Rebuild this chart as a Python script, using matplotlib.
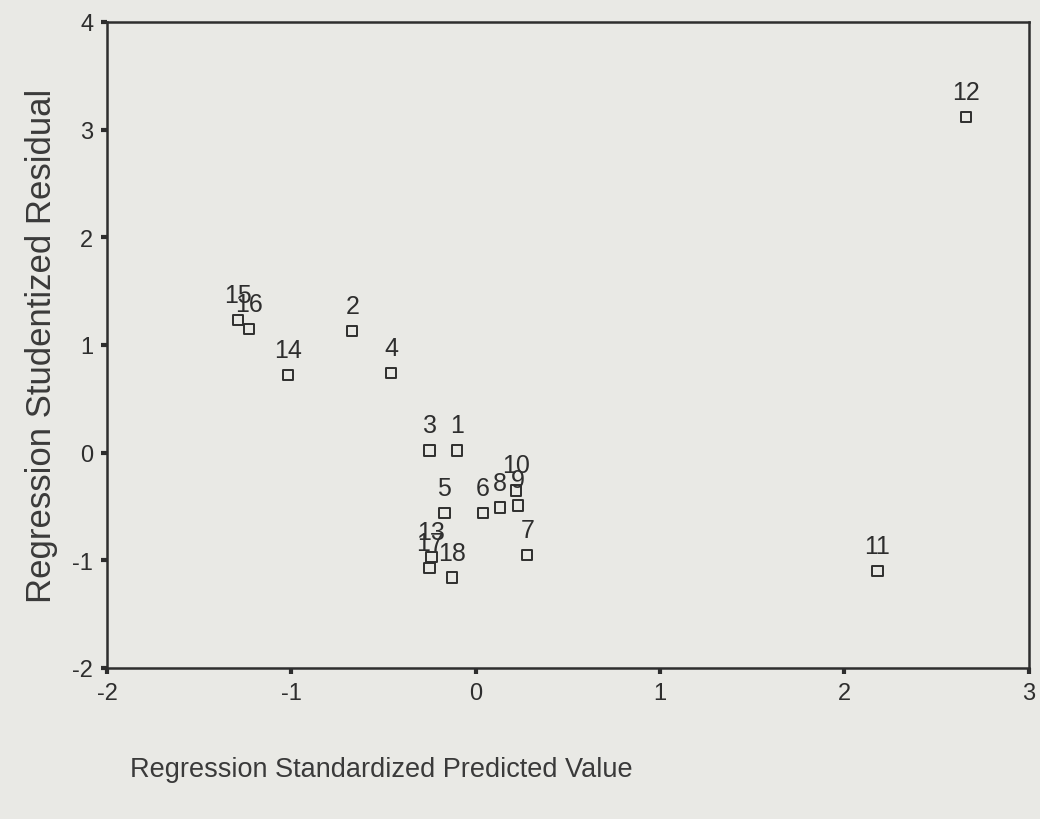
import matplotlib.pyplot as plt

plt.rcParams['font.family'] = ['Liberation Sans', 'DejaVu Sans']
plt.rcParams['axes.unicode_minus'] = False

# case numbers and their coordinates
case_ids = [1, 2, 3, 4, 5, 6, 7, 8, 9, 10, 11, 12, 13, 14, 15, 16, 17, 18]
pred_std = [-0.10, -0.67, -0.25, -0.46, -0.17, 0.04, 0.28, 0.13, 0.23, 0.22,
            2.18, 2.66, -0.24, -1.02, -1.29, -1.23, -0.25, -0.13]
resid_stud = [0.02, 1.13, 0.02, 0.74, -0.56, -0.56, -0.95, -0.51, -0.49, -0.35,
              -1.10, 3.12, -0.97, 0.72, 1.23, 1.15, -1.07, -1.16]

x_ticks = [-2, -1, 0, 1, 2, 3]
y_ticks = [-2, -1, 0, 1, 2, 3, 4]

bg = '#e9e9e5'
ink = '#2e2e2e'

fig = plt.figure(figsize=(10.4, 8.2), dpi=100, facecolor=bg)
ax = fig.add_axes([0.103, 1 - 669 / 820, 0.886, 646 / 820], facecolor=bg)

ax.scatter(pred_std, resid_stud, marker='s', s=55, facecolors='none',
           edgecolors=ink, linewidths=1.4, zorder=3)
for cid, xv, yv in zip(case_ids, pred_std, resid_stud):
    ax.annotate(str(cid), (xv, yv), xytext=(0, 13), textcoords='offset points',
                ha='center', va='baseline', fontsize=18, color=ink)

ax.set_xlim(-2, 3)
ax.set_ylim(-2, 4)
ax.set_xticks(x_ticks)
ax.set_yticks(y_ticks)
ax.tick_params(direction='out', length=4, width=3, colors=ink,
               labelsize=17, pad=6)
for sp in ax.spines.values():
    sp.set_color(ink)
    sp.set_linewidth(1.8)

ax.set_ylabel('Regression Studentized Residual', fontsize=25, color='#3a3a3a',
              labelpad=10)
fig.text(130 / 1040, 1 - 770 / 820, 'Regression Standardized Predicted Value',
         fontsize=19.5, color='#3a3a3a', ha='left', va='center')

fig.savefig('out.png', dpi=100, facecolor=bg)
